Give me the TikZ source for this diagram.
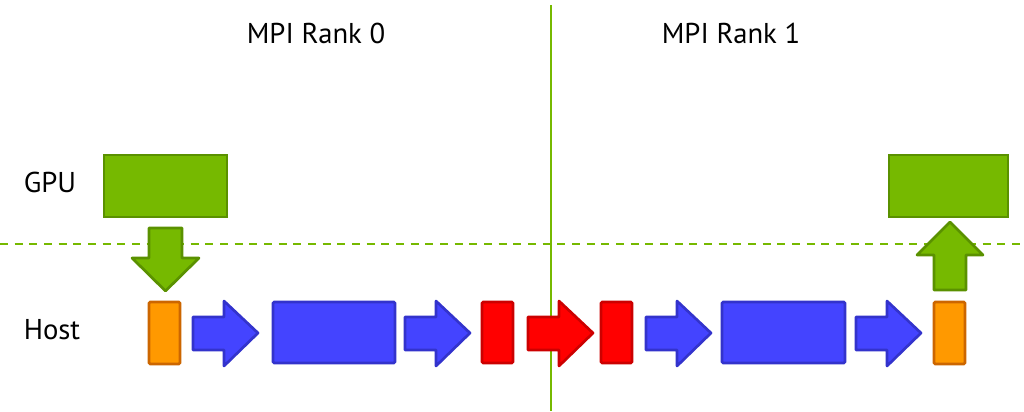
\documentclass[tikz,border=0pt]{standalone}
\usepackage{fontspec}
\setmainfont{PT Sans}
\definecolor{ngreen}{RGB}{118,185,0}
\definecolor{ngreenD}{RGB}{90,145,0}
\definecolor{norange}{RGB}{255,153,0}
\definecolor{norangeD}{RGB}{204,102,0}
\definecolor{nblue}{RGB}{68,68,255}
\definecolor{nblueD}{RGB}{51,51,204}
\definecolor{nred}{RGB}{255,0,0}
\definecolor{nredD}{RGB}{204,0,0}
\begin{document}
\begin{tikzpicture}[x=0.75pt,y=-0.75pt,
  lbl/.style={font=\fontsize{21.5}{24}\selectfont, inner sep=0pt},
  grn/.style={fill=ngreen, draw=ngreenD, line width=2pt},
  org/.style={fill=norange, draw=norangeD, line width=2pt, rounded corners=1pt},
  blu/.style={fill=nblue, draw=nblueD, line width=2pt, rounded corners=1pt},
  rd/.style={fill=nred, draw=nredD, line width=2pt, rounded corners=1pt},
  gline/.style={draw=ngreen, line width=1pt}]
\useasboundingbox (0,0) rectangle (1024,411);
\node[lbl] (t0) at (316,33) {MPI Rank 0};
\node[lbl] (t1) at (731,33) {MPI Rank 1};
\node[lbl] (gpu) at (50,182) {GPU};
\node[lbl] (host) at (52,330) {Host};
\draw[gline] (551,5) -- (551,411);
\draw[gline, dash pattern=on 6pt off 5pt] (0,244) -- (1024,244);
\draw[grn] (104,155) rectangle (227,217);
\draw[grn] (889,155) rectangle (1008,217);
\draw[grn, line join=round] (149,228) -- (182,228) -- (182,258) -- (199,258) -- (165.5,291) -- (132,258) -- (149,258) -- cycle;
\draw[grn, line join=round] (934,290) -- (966,290) -- (966,255) -- (983,255) -- (950,222) -- (917,255) -- (934,255) -- cycle;
\draw[org] (149,302) rectangle (180,364);
\draw[org] (934,302) rectangle (965,364);
\draw[blu] (273,302) rectangle (395,363);
\draw[blu] (722,302) rectangle (845,363);
\draw[rd] (482,302) rectangle (513,363);
\draw[rd] (601,302) rectangle (632,363);
\foreach \x/\s in {193/blu,405/blu,528/rd,646/blu,856/blu}{
  \draw[\s, rounded corners=0pt, line join=round] (\x,317) -- (\x+31,317) -- (\x+31,301) -- (\x+65,333) -- (\x+31,366) -- (\x+31,350) -- (\x,350) -- cycle;
}
\end{tikzpicture}
\end{document}
